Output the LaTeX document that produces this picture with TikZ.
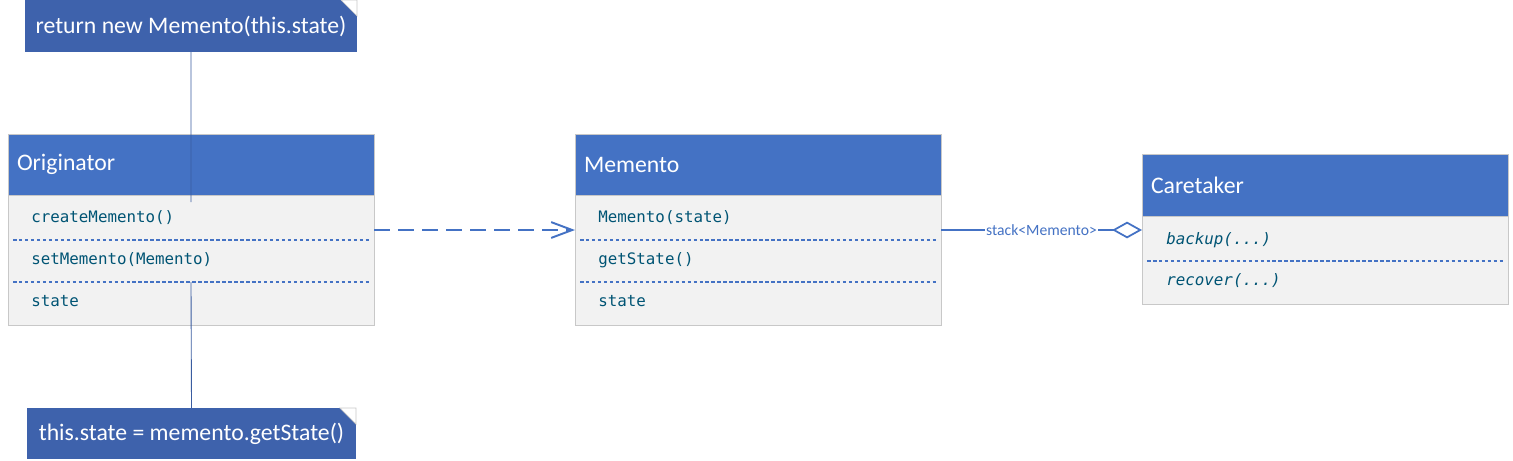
\documentclass[tikz,border=0pt]{standalone}
\usepackage{fontspec}
\setmainfont{Carlito}
\setmonofont{DejaVu Sans Mono}
\usetikzlibrary{positioning,calc,arrows.meta}
\definecolor{hdrblue}{RGB}{68,114,196}
\definecolor{noteblue}{RGB}{62,98,172}
\definecolor{bodygray}{RGB}{242,242,242}
\definecolor{edgegray}{RGB}{200,200,200}
\definecolor{membertext}{RGB}{0,84,116}
\definecolor{linkblue}{RGB}{58,92,160}
\tikzset{
  header/.style={draw=edgegray, fill=hdrblue, text=white, outer sep=0pt, inner xsep=0.18cm,
    minimum width=7.32cm, text width=6.96cm, align=left, font=\fontsize{13.5}{16}\selectfont},
  classbody/.style={draw=edgegray, fill=bodygray, outer sep=0pt, minimum width=7.32cm},
  member/.style={anchor=west, inner sep=0pt, text=membertext, font=\ttfamily\fontsize{9}{11}\selectfont},
  sepline/.style={draw=hdrblue, line width=0.7pt, dash pattern=on 2pt off 1.4pt},
  note/.style={fill=noteblue, text=white, outer sep=0pt, font=\fontsize{13.5}{16}\selectfont},
  noteline/.style={draw=linkblue, line width=0.5pt},
}
\newcommand{\dashsep}[2]{ \draw[sepline] ($(#1.north west)+(0.1,#2)$) -- ($(#1.north east)+(-0.1,#2)$);}
\newcommand{\foldnote}[1]{ \filldraw[fill=white, draw=edgegray, line width=0.4pt] ($(#1.north east)+(-0.32,0)$) -- (#1.north east) -- ($(#1.north east)+(0,-0.32)$) -- cycle;}

\begin{document}
\begin{tikzpicture}
    \useasboundingbox (0,0) rectangle (30.26,-9.2);

        % Originator
        \node[header, minimum height=1.22cm, anchor=north west] (ohdr) at (0.16,-2.68) {Originator};
        \node[classbody, minimum height=2.6cm, below=0pt of ohdr] (obody) {};
        \node[member] (ocreate) at ($(obody.north west)+(0.46,-0.46)$) {createMemento()};
        \node[member] (oset) at ($(obody.north west)+(0.46,-1.3)$) {setMemento(Memento)};
        \node[member] (ostate) at ($(obody.north west)+(0.46,-2.12)$) {state};
        \dashsep{obody}{-0.9}
        \dashsep{obody}{-1.74}

        % Memento
        \node[header, minimum height=1.22cm, anchor=north west] (mhdr) at (11.5,-2.68) {Memento};
        \node[classbody, minimum height=2.6cm, below=0pt of mhdr] (mbody) {};
        \node[member] (mctor) at ($(mbody.north west)+(0.46,-0.46)$) {Memento(state)};
        \node[member] (mget) at ($(mbody.north west)+(0.46,-1.3)$) {getState()};
        \node[member] (mstate) at ($(mbody.north west)+(0.46,-2.12)$) {state};
        \dashsep{mbody}{-0.9}
        \dashsep{mbody}{-1.74}

        % Caretaker
        \node[header, minimum height=1.24cm, anchor=north west] (chdr) at (22.84,-3.08) {Caretaker};
        \node[classbody, minimum height=1.76cm, below=0pt of chdr] (cbody) {};
        \node[member] (cbackup) at ($(cbody.north west)+(0.48,-0.48)$) {\itshape backup(...)};
        \node[member] (crecover) at ($(cbody.north west)+(0.48,-1.3)$) {\itshape recover(...)};
        \dashsep{cbody}{-0.9}

        % notes
        \node[note, minimum width=6.64cm, minimum height=1.04cm] (createnote) at (3.82,-0.52) {return new Memento(this.state)};
        \foldnote{createnote}
        \node[note, minimum width=6.58cm, minimum height=1.02cm] (setnote) at (3.83,-8.67) {this.state = memento.getState()};
        \foldnote{setnote}

        \coordinate (createpin) at ($(obody.north west)+(3.66,-0.14)$);
        \coordinate (setpin) at ($(obody.north west)+(3.66,-1.74)$);
        \draw[noteline] (createnote.south) -- (createpin);
        \draw[noteline] (setpin) -- (setnote.north);

        % links
        \coordinate (dep1) at ($(obody.north east)+(0,-0.7)$);
        \coordinate (dep2) at ($(mbody.north west)+(0,-0.7)$);
        \draw[hdrblue, line width=1.1pt, dash pattern=on 0.32cm off 0.16cm,
              -{Straight Barb[length=12pt,width=9pt,line width=1.1pt]}] (dep1) -- (dep2);

        \coordinate (agg1) at ($(mbody.north east)+(0,-0.7)$);
        \coordinate (agg2) at ($(cbody.north west)+(0,-0.28)$);
        \draw[hdrblue, line width=1pt, -{Diamond[open,length=17pt,width=9.5pt]}] (agg1) --
            node[fill=white, inner sep=0.5pt, text=hdrblue, font=\fontsize{8.9}{10}\selectfont] (agglabel) {stack<Memento>} (agg2);

\end{tikzpicture}
\end{document}
